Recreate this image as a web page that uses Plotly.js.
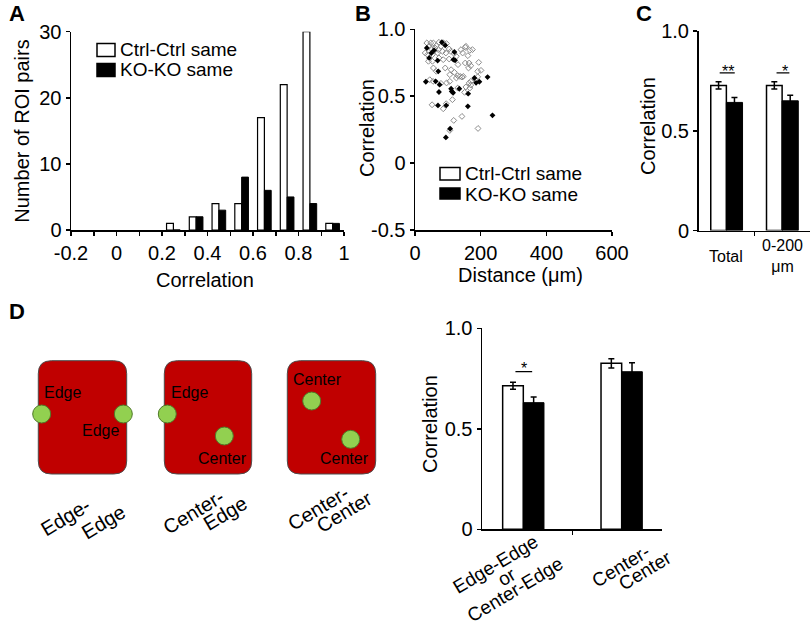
<!DOCTYPE html>
<html><head><meta charset="utf-8">
<script src="https://cdn.plot.ly/plotly-3.0.1.min.js"></script>
<style>html,body{margin:0;padding:0;background:#fff;}#chart{width:810px;height:628px;}</style>
</head><body><div id="chart"></div>
<script>
// ---------- DATA ----------
// Panel A: histogram of correlations
const histBins = [0.25, 0.35, 0.45, 0.55, 0.65, 0.75, 0.85, 0.95];
const histCtrl = [1, 2, 4, 4, 17, 22, 30, 1];
const histKO   = [0, 2, 3, 8, 6, 5, 4, 1];
const histTickVals = [-0.2, 0, 0.2, 0.4, 0.6, 0.8, 1.0];
const histTickText = ['-0.2', '0', '0.2', '0.4', '0.6', '0.8', '1'];
const histYTicks = [0, 10, 20, 30];

// Panel B: correlation vs distance
const ctrlDist = [36,56,73,87,96,65,43,50,61,71,104,109,153,140,167,155,31,38,53,69,94,119,126,145,161,175,41,53,73,86,104,131,153,165,170,194,56,65,92,110,120,106,130,137,147,191,201,163,45,55,96,106,126,143,184,170,155,167,151,130,114,52,95,86,118,143,106,192,165,79,84,48,79,170,191];
const ctrlCorr = [0.898,0.898,0.903,0.898,0.893,0.878,0.873,0.853,0.860,0.848,0.853,0.835,0.865,0.848,0.843,0.873,0.823,0.810,0.810,0.823,0.823,0.818,0.798,0.823,0.803,0.848,0.761,0.761,0.786,0.773,0.778,0.736,0.748,0.748,0.728,0.753,0.711,0.686,0.711,0.698,0.678,0.661,0.653,0.648,0.648,0.686,0.693,0.711,0.623,0.611,0.599,0.611,0.636,0.643,0.623,0.611,0.569,0.561,0.529,0.561,0.474,0.436,0.444,0.406,0.319,0.349,0.244,0.259,0.599,0.873,0.835,0.898,0.596,0.583,0.645];
const koDist = [36,50,58,82,92,117,120,69,43,71,33,63,75,73,70,95,110,116,135,162,161,181,196,221,236,107,94,122,112,186];
const koCorr = [0.860,0.823,0.843,0.903,0.880,0.773,0.830,0.766,0.786,0.686,0.608,0.611,0.586,0.531,0.431,0.431,0.556,0.526,0.556,0.519,0.424,0.636,0.608,0.643,0.357,0.257,0.192,0.768,0.536,0.600];
const distTicks = [0, 200, 400, 600];
const corrTicksB = [-0.5, 0, 0.5, 1.0];
const corrTextB = ['-0.5', '0', '0.5', '1.0'];

// Panel C: mean correlation
const cCats = ['Total', '0-200<br>μm'];
const cPos = [0, 1];
const cCtrl = [0.727, 0.727];
const cCtrlErr = [0.018, 0.018];
const cKO = [0.642, 0.650];
const cKOErr = [0.025, 0.028];

// Panel D: mean correlation by location
const dPos = [0, 1];
const dCtrl = [0.714, 0.826];
const dCtrlErr = [0.017, 0.023];
const dKO = [0.630, 0.784];
const dKOErr = [0.028, 0.045];
const corrTicks = [0, 0.5, 1.0];
const corrText = ['0', '0.5', '1.0'];

// ---------- LAYOUT HELPERS ----------
const W = 810, H = 628;
const FONT = 'Arial, "Liberation Sans", Helvetica, sans-serif';
const X = v => v / W;
const Y = v => 1 - v / H;
const dom = (a, b) => [X(a), X(b)];
const vdom = (top, bottom) => [Y(bottom), Y(top)];

function axisBase(extra) {
  return Object.assign({
    showline: true, linecolor: '#000', linewidth: 1.5,
    ticks: 'outside', ticklen: 4, tickwidth: 1.5, tickcolor: '#000',
    showgrid: false, zeroline: false, fixedrange: true,
    tickfont: {family: FONT, size: 20, color: '#000'}
  }, extra);
}

function rrect(x0, y0, x1, y1, r) {
  const f = (a, b) => X(a).toFixed(5) + ',' + Y(b).toFixed(5);
  return 'M' + f(x0 + r, y0) + ' L' + f(x1 - r, y0) + ' Q' + f(x1, y0) + ' ' + f(x1, y0 + r) +
    ' L' + f(x1, y1 - r) + ' Q' + f(x1, y1) + ' ' + f(x1 - r, y1) +
    ' L' + f(x0 + r, y1) + ' Q' + f(x0, y1) + ' ' + f(x0, y1 - r) +
    ' L' + f(x0, y0 + r) + ' Q' + f(x0, y0) + ' ' + f(x0 + r, y0) + ' Z';
}

const errStyle = arr => ({type: 'data', array: arr, visible: true, color: '#000', thickness: 1.5, width: 3});

// ---------- TRACES ----------
const traces = [
  {type: 'bar', x: histBins, y: histCtrl, offset: -0.03, width: 0.03, xaxis: 'x', yaxis: 'y',
   marker: {color: '#fff', line: {color: '#000', width: 1.2}}, name: 'Ctrl-Ctrl same', showlegend: false},
  {type: 'bar', x: histBins, y: histKO, offset: 0, width: 0.03, xaxis: 'x', yaxis: 'y',
   marker: {color: '#000', line: {color: '#000', width: 1}}, name: 'KO-KO same', showlegend: false},
  {type: 'scatter', mode: 'markers', x: ctrlDist, y: ctrlCorr, xaxis: 'x2', yaxis: 'y2',
   marker: {symbol: 'diamond-open', size: 4.5, color: '#8c8c8c', line: {width: 1}}, showlegend: false},
  {type: 'scatter', mode: 'markers', x: koDist, y: koCorr, xaxis: 'x2', yaxis: 'y2',
   marker: {symbol: 'diamond', size: 4.5, color: '#000'}, showlegend: false},
  {type: 'bar', x: cPos, y: cCtrl, offset: -0.28, width: 0.28, xaxis: 'x3', yaxis: 'y3',
   marker: {color: '#fff', line: {color: '#000', width: 1.5}}, error_y: errStyle(cCtrlErr), showlegend: false},
  {type: 'bar', x: cPos, y: cKO, offset: 0, width: 0.29, xaxis: 'x3', yaxis: 'y3',
   marker: {color: '#000', line: {color: '#000', width: 1}}, error_y: errStyle(cKOErr), showlegend: false},
  {type: 'bar', x: dPos, y: dCtrl, offset: -0.21, width: 0.21, xaxis: 'x4', yaxis: 'y4',
   marker: {color: '#fff', line: {color: '#000', width: 1.5}}, error_y: errStyle(dCtrlErr), showlegend: false},
  {type: 'bar', x: dPos, y: dKO, offset: 0, width: 0.21, xaxis: 'x4', yaxis: 'y4',
   marker: {color: '#000', line: {color: '#000', width: 1}}, error_y: errStyle(dKOErr), showlegend: false}
];

// ---------- SHAPES ----------
const shapes = [];
// legend A
shapes.push({type: 'rect', xref: 'paper', yref: 'paper', x0: X(97), x1: X(115), y0: Y(56.5), y1: Y(43.5), fillcolor: '#fff', line: {color: '#000', width: 1.5}});
shapes.push({type: 'rect', xref: 'paper', yref: 'paper', x0: X(97), x1: X(115), y0: Y(76.5), y1: Y(63.5), fillcolor: '#000', line: {color: '#000', width: 1.5}});
// legend B
shapes.push({type: 'rect', xref: 'paper', yref: 'paper', x0: X(440), x1: X(460), y0: Y(180), y1: Y(167.5), fillcolor: '#fff', line: {color: '#000', width: 1.5}});
shapes.push({type: 'rect', xref: 'paper', yref: 'paper', x0: X(440), x1: X(460), y0: Y(199), y1: Y(188), fillcolor: '#000', line: {color: '#000', width: 1.5}});
// significance lines
shapes.push({type: 'line', xref: 'x3', yref: 'y3', x0: -0.12, x1: 0.15, y0: 0.79, y1: 0.79, line: {color: '#000', width: 1.2}});
shapes.push({type: 'line', xref: 'x3', yref: 'y3', x0: 0.9, x1: 1.13, y0: 0.79, y1: 0.79, line: {color: '#000', width: 1.2}});
shapes.push({type: 'line', xref: 'x4', yref: 'y4', x0: -0.08, x1: 0.09, y0: 0.784, y1: 0.784, line: {color: '#000', width: 1.2}});
// diagrams
[[38.3, 126.7], [164.3, 251.7], [287.3, 375.7]].forEach(([a, b]) => {
  shapes.push({type: 'path', xref: 'paper', yref: 'paper', path: rrect(a, 360.7, b, 474, 13),
    fillcolor: '#c00000', line: {color: '#4d4d4d', width: 1}});
});
[[41.7, 414], [123.3, 414], [167.3, 414], [224.3, 436], [311.7, 401], [350.7, 439.3]].forEach(([cx, cy]) => {
  shapes.push({type: 'circle', xref: 'paper', yref: 'paper', x0: X(cx - 9), x1: X(cx + 9), y0: Y(cy + 9), y1: Y(cy - 9),
    fillcolor: '#92d050', line: {color: '#4f7a28', width: 1}});
});

// ---------- ANNOTATIONS ----------
const ann = [];
function txt(t, x, y, o) {
  ann.push(Object.assign({text: t, x: X(x), y: Y(y), xref: 'paper', yref: 'paper', showarrow: false,
    xanchor: 'center', yanchor: 'middle', font: {family: FONT, size: 20, color: '#000'}}, o || {}));
}
// panel letters
const bold = {font: {family: FONT, size: 22, color: '#000', weight: 'bold'}};
txt('<b>A</b>', 16.5, 14, bold);
txt('<b>B</b>', 362.5, 13, bold);
txt('<b>C</b>', 643.5, 13, bold);
txt('<b>D</b>', 16.5, 311, bold);
// axis titles
txt('Number of ROI pairs', 21.7, 131, {textangle: -90});
txt('Correlation', 205, 280);
txt('Correlation', 367, 128, {textangle: -90});
txt('Distance (μm)', 520, 275);
txt('Correlation', 648, 126, {textangle: -90});
txt('Correlation', 430, 424, {textangle: -90});
// legends
const leg = {xanchor: 'left', font: {family: FONT, size: 19, color: '#000'}};
txt('Ctrl-Ctrl same', 118, 49.5, leg);
txt('KO-KO same', 118, 70, leg);
txt('Ctrl-Ctrl same', 463, 173.5, leg);
txt('KO-KO same', 463, 194, leg);
// stars
txt('**', 728, 72, {font: {family: FONT, size: 16, color: '#000'}});
txt('*', 785, 72, {font: {family: FONT, size: 16, color: '#000'}});
txt('*', 523.5, 368.5, {font: {family: FONT, size: 16, color: '#000'}});
// C category labels
const small = {family: FONT, size: 16, color: '#000'};
ann.push({text: cCats[0], x: cPos[0], xref: 'x3', y: Y(256), yref: 'paper', showarrow: false, yanchor: 'middle', font: small});
ann.push({text: cCats[1], x: cPos[1], xref: 'x3', y: Y(256), yref: 'paper', showarrow: false, yanchor: 'middle', font: small});
// D category labels (rotated)
const rotD = {textangle: -31, font: {family: FONT, size: 19, color: '#000'}};
txt('Edge-Edge', 495, 564.5, rotD);
txt('or', 507.3, 576.5, rotD);
txt('Center-Edge', 515, 589, rotD);
txt('Center-', 620, 566, rotD);
txt('Center', 645, 570, rotD);
// diagram labels
const rot = {textangle: -31};
const dl = {font: {family: FONT, size: 16, color: '#000'}};
txt('Edge', 62.3, 392.7, dl);
txt('Edge', 100, 430.7, dl);
txt('Edge', 189, 392.7, dl);
txt('Center', 222.3, 458.7, dl);
txt('Center', 317.3, 379.3, dl);
txt('Center', 344.7, 458.7, dl);
txt('Edge-', 65.7, 517.3, rot);
txt('Edge', 103.3, 521.7, rot);
txt('Center-', 193.3, 511.7, rot);
txt('Edge', 225.7, 513.3, rot);
txt('Center-', 318.3, 508.3, rot);
txt('Center', 344, 511.7, rot);

// ---------- LAYOUT ----------
const layout = {
  width: W, height: H, margin: {l: 0, r: 0, t: 0, b: 0, pad: 0},
  paper_bgcolor: '#fff', plot_bgcolor: 'rgba(0,0,0,0)',
  barmode: 'overlay', showlegend: false,
  font: {family: FONT, size: 20, color: '#000'},
  xaxis: axisBase({domain: dom(71, 344), range: [-0.2, 1.0], anchor: 'y', tickmode: 'array',
    tickvals: histTickVals, ticktext: histTickText,
    minor: {tickmode: 'linear', tick0: 0, dtick: 0.1, ticks: 'outside', ticklen: 4, tickwidth: 1.5, tickcolor: '#000'}}),
  yaxis: axisBase({domain: vdom(31.7, 230), range: [0, 30], anchor: 'x', tickmode: 'array', tickvals: histYTicks}),
  xaxis2: axisBase({domain: dom(415, 612), range: [0, 600], anchor: 'y2', tickmode: 'array', tickvals: distTicks}),
  yaxis2: axisBase({domain: vdom(29.3, 230), range: [-0.5, 1.0], anchor: 'x2', tickmode: 'array', tickvals: corrTicksB, ticktext: corrTextB}),
  xaxis3: axisBase({domain: dom(698.5, 810), range: [-0.5, 1.5], anchor: 'y3', tickmode: 'array', tickvals: [0.5], ticktext: [''], showticklabels: false}),
  yaxis3: axisBase({domain: vdom(31, 230.5), range: [0, 1], anchor: 'x3', tickmode: 'array', tickvals: corrTicks, ticktext: corrText}),
  xaxis4: axisBase({domain: dom(482, 662), range: [-0.42, 1.41], anchor: 'y4', tickmode: 'array', tickvals: [0.5], ticktext: [''], showticklabels: false}),
  yaxis4: axisBase({domain: vdom(328.3, 529.3), range: [0, 1], anchor: 'x4', tickmode: 'array', tickvals: corrTicks, ticktext: corrText}),
  shapes: shapes,
  annotations: ann
};

Plotly.newPlot('chart', traces, layout, {displayModeBar: false, staticPlot: true});
</script></body></html>
